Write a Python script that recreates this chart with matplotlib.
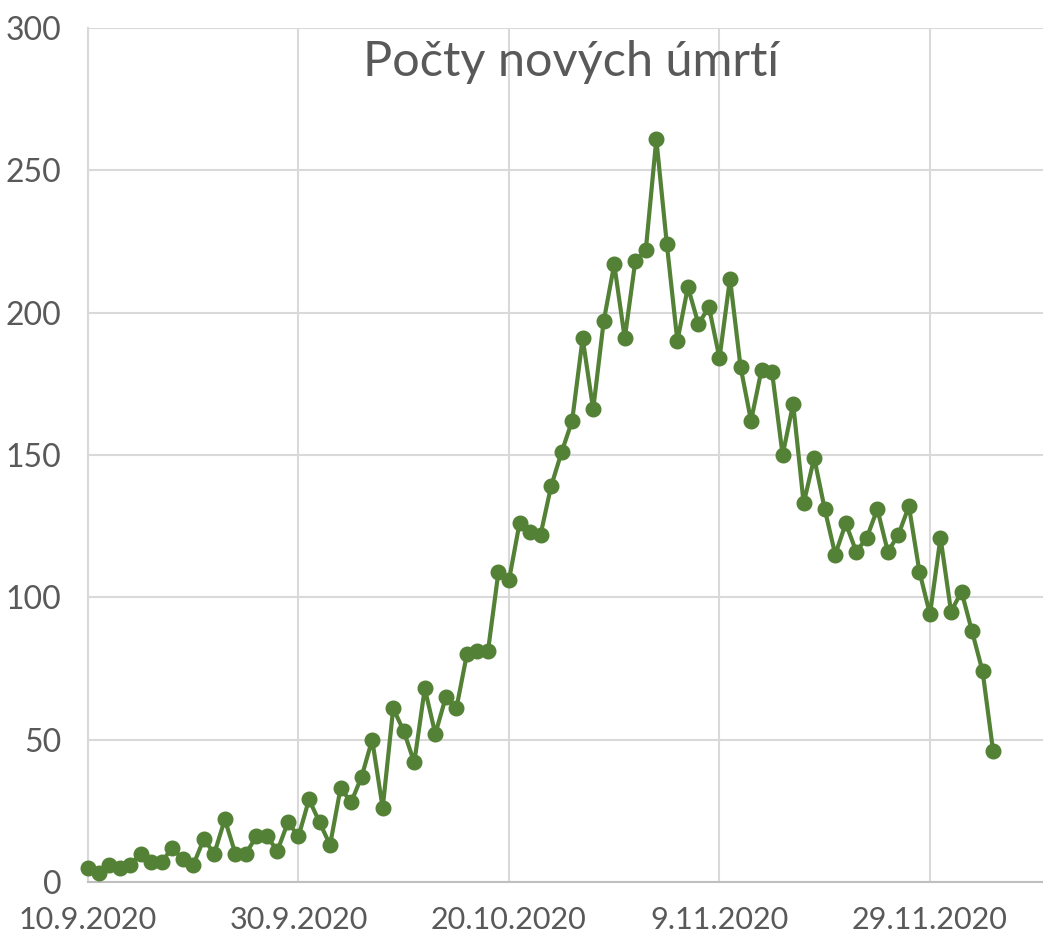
import matplotlib
matplotlib.use("Agg")
import matplotlib.pyplot as plt
import pandas as pd

# daily new deaths, 10.9.2020 - 5.12.2020
start_date = "2020-09-10"
deaths = [5, 3, 6, 5, 6, 10, 7, 7, 12, 8, 6, 15, 10, 22, 10, 10, 16, 16, 11, 21,
          16, 29, 21, 13, 33, 28, 37, 50, 26, 61, 53, 42, 68, 52, 65, 61, 80, 81, 81, 109,
          106, 126, 123, 122, 139, 151, 162, 191, 166, 197, 217, 191, 218, 222, 261, 224, 190, 209, 196, 202,
          184, 212, 181, 162, 180, 179, 150, 168, 133, 149, 131, 115, 126, 116, 121, 131, 116, 122, 132, 109,
          94, 121, 95, 102, 88, 74, 46]
title = "Počty nových úmrtí"
y_ticks = [0, 50, 100, 150, 200, 250, 300]

dates = pd.date_range(start_date, periods=len(deaths), freq="D")
tick_dates = pd.date_range(start_date, periods=5, freq="20D")

green = "#538135"
grey_text = "#595959"
grid_col = "#d9d9d9"

plt.rcParams["font.family"] = ["Lato", "DejaVu Sans"]

fig = plt.figure(figsize=(10.43, 9.4), dpi=100)
ax = fig.add_axes([88 / 1043, 1 - 882 / 940, 1 - 88 / 1043, (882 - 28) / 940])

ax.plot(dates, deaths, color=green, linewidth=3, marker="o", markersize=10.5,
        markerfacecolor=green, markeredgecolor=green, zorder=3, clip_on=False)

ax.set_ylim(0, 300)
ax.set_yticks(y_ticks)
ax.set_xlim(dates[0], dates[0] + pd.Timedelta(days=90.74))
ax.set_xticks(tick_dates)
ax.set_xticklabels([f"{d.day}.{d.month}.{d.year}" for d in tick_dates])

ax.grid(True, color=grid_col, linewidth=1.5, zorder=0)
ax.set_axisbelow(True)
for side in ["top", "right"]:
    ax.spines[side].set_visible(False)
ax.spines["left"].set_color(grid_col)
ax.spines["left"].set_linewidth(1.5)
ax.spines["bottom"].set_color("#bfbfbf")
ax.spines["bottom"].set_linewidth(1.5)

ax.tick_params(axis="y", length=0, pad=19, labelsize=23, labelcolor=grey_text)
ax.tick_params(axis="x", length=0, pad=17, labelsize=22, labelcolor=grey_text)

fig.text(571 / 1043, 1 - 76 / 940, title, ha="center", va="baseline",
         fontsize=35, color=grey_text)

fig.savefig("out.png", dpi=100)
